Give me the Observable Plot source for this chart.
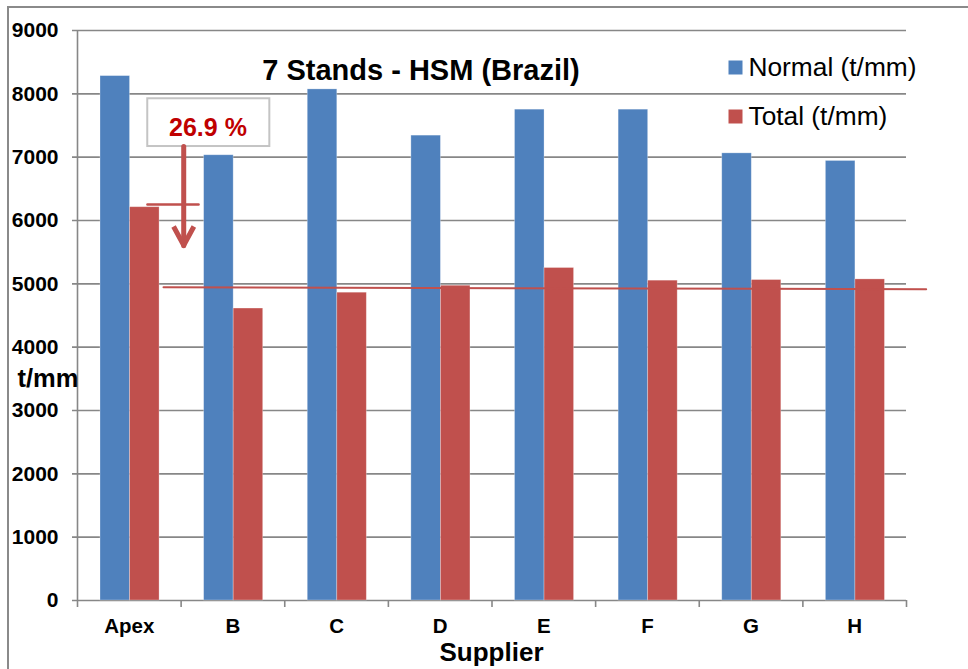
<!DOCTYPE html>
<html><head><meta charset="utf-8">
<script src="https://cdn.jsdelivr.net/npm/d3@7"></script>
<script src="https://cdn.jsdelivr.net/npm/@observablehq/plot@0.6"></script>
<style>
body{margin:0;background:#fff;}
#wrap{position:relative;width:968px;height:669px;overflow:hidden;}
#wrap svg{position:absolute;left:0;top:0;}
#border{position:absolute;left:7px;top:6px;right:-10px;bottom:-10px;border-left:2px solid #8a8a8a;border-top:2px solid #8a8a8a;}
</style></head><body><div id="wrap"><div id="border"></div></div>
<script>
const suppliers = ["Apex","B","C","D","E","F","G","H"];
const normal = [8280, 7030, 8070, 7340, 7750, 7750, 7060, 6940];
const total  = [6210, 4610, 4860, 4970, 5250, 5050, 5060, 5070];
const seriesNames = ["Normal (t/mm)", "Total (t/mm)"];
const yTicks = [0,1000,2000,3000,4000,5000,6000,7000,8000,9000];
const chartTitle = "7 Stands - HSM (Brazil)";
const yLabel = "t/mm";
const xLabel = "Supplier";
const reductionLabel = "26.9 %";
const refLineLevels = [4945, 4915];

const colors = ["#4F81BD", "#C0504D"];
const grid = "#878787";
const font = "Liberation Sans, Arial, sans-serif";

const rows = suppliers.flatMap((s, i) => [
  {supplier: s, i, k: 0, series: seriesNames[0], value: normal[i]},
  {supplier: s, i, k: 1, series: seriesNames[1], value: total[i]}
]);

// bar geometry within each category band (style, not data)
const groupStart = 0.222, barW = 0.285;

// annotation placement in data coordinates
const box = {x1: 0.678, x2: 1.856, y1: 7168, y2: 7922};
const arrowX = 1.025;

const legendMarks = seriesNames.flatMap((s, k) => [
  Plot.dot([s], {frameAnchor: "top-left", dx: 658, dy: 37 + 49 * k, symbol: "square", r: 7.9, fill: colors[k]}),
  Plot.text([s], {frameAnchor: "top-left", lineAnchor: "middle", dx: 671, dy: 37 + 49 * k, textAnchor: "start", fontSize: 26.3, fill: "#000", fontFamily: font})
]);

const chart = Plot.plot({
  width: 968, height: 669,
  marginLeft: 77, marginRight: 62, marginTop: 30, marginBottom: 69,
  style: {fontFamily: font, background: "transparent", overflow: "visible"},
  x: {type: "linear", domain: [0, suppliers.length], axis: null},
  y: {domain: [0, 9000], axis: null},
  color: {domain: seriesNames, range: colors},
  marks: [
    Plot.ruleY(yTicks, {stroke: grid, strokeWidth: 1.6, insetLeft: -5}),
    Plot.ruleX([0], {stroke: grid, strokeWidth: 1.6}),
    Plot.axisX({ticks: d3.range(0, suppliers.length + 1), tickSize: 7, tickFormat: () => "", stroke: grid, strokeWidth: 1.6}),
    Plot.rectY(rows, {
      x1: d => d.i + groupStart + d.k * barW,
      x2: d => d.i + groupStart + (d.k + 1) * barW,
      y: "value", fill: "series", stroke: "#fff", strokeOpacity: 0.35, strokeWidth: 0.8
    }),
    Plot.text(yTicks, {x: 0, y: d => d, text: d => String(d), dx: -19, textAnchor: "end", fontSize: 21, fontWeight: "bold", fill: "#000"}),
    Plot.text(suppliers, {x: (d, i) => i + 0.5, y: 0, dy: 26, fontSize: 20.5, fontWeight: "bold", fill: "#000"}),
    Plot.text([yLabel], {frameAnchor: "top-left", lineAnchor: "middle", dx: -60, dy: 348, textAnchor: "start", fontSize: 25.5, fontWeight: "bold", fill: "#000"}),
    Plot.text([xLabel], {frameAnchor: "top-left", lineAnchor: "middle", dx: 414, dy: 622, textAnchor: "middle", fontSize: 26, fontWeight: "bold", fill: "#000"}),
    Plot.text([chartTitle], {frameAnchor: "top-left", lineAnchor: "middle", dx: 343.5, dy: 40, textAnchor: "middle", fontSize: 29, fontWeight: "bold", fill: "#000"}),
    ...legendMarks,
    // reference line at Total level
    Plot.line([{x: 0.83, y: refLineLevels[0]}, {x: 8.19, y: refLineLevels[1]}], {x: "x", y: "y", stroke: "#C0504D", strokeWidth: 2}),
    // annotation box and label
    Plot.rect([box], {x1: "x1", x2: "x2", y1: "y1", y2: "y2", fill: "#fff", stroke: "#c4c4c4", strokeWidth: 2}),
    Plot.text([reductionLabel], {x: 1.259, y: 7468, fontSize: 25, fontWeight: "bold", fill: "#C00000"}),
    // short level marker
    Plot.line([{x: 0.675, y: 6253}, {x: 1.168, y: 6253}], {x: "x", y: "y", stroke: "#C0504D", strokeWidth: 2.5}),
    // arrow shaft and head
    Plot.line([{x: arrowX, y: 7168}, {x: arrowX, y: 5600}], {x: "x", y: "y", stroke: "#C0504D", strokeWidth: 5}),
    Plot.line([{x: 0.927, y: 5905}, {x: arrowX, y: 5610}, {x: 1.123, y: 5905}], {x: "x", y: "y", stroke: "#C0504D", strokeWidth: 5, strokeLinejoin: "miter", strokeLinecap: "butt"})
  ]
});
document.getElementById("wrap").prepend(chart);
</script>
</body></html>
